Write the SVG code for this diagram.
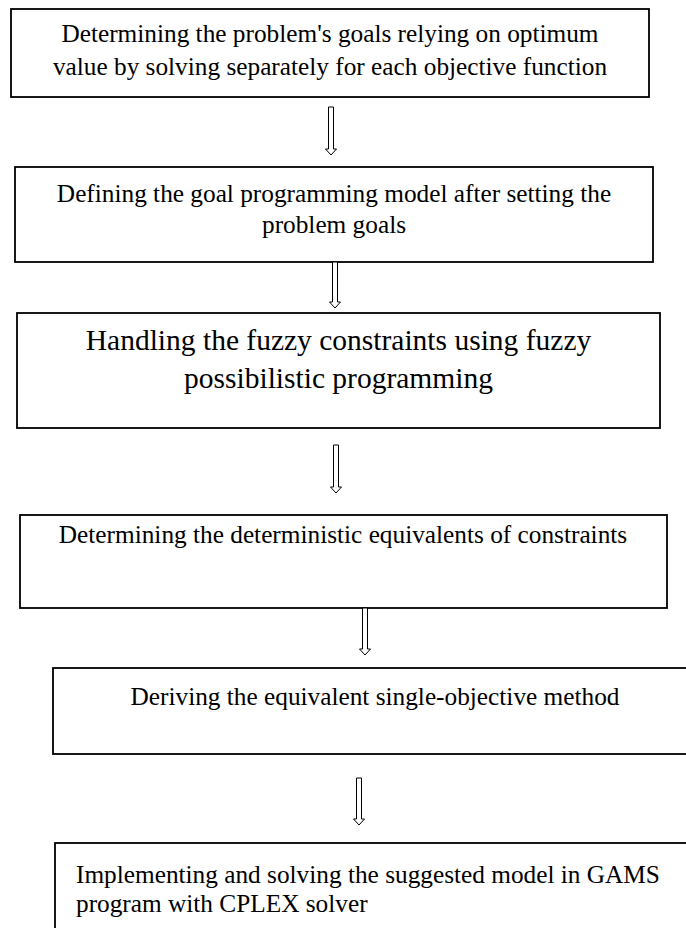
<svg xmlns="http://www.w3.org/2000/svg" width="686" height="928" viewBox="0 0 686 928">
<style>
.box{fill:#fff;stroke:#000;stroke-width:1.8}
.t{font-family:"Liberation Serif","Times New Roman",serif;font-size:25.3px;fill:#000}
.tl{font-family:"Liberation Serif","Times New Roman",serif;font-size:29.5px;fill:#000}
.c{text-anchor:middle}
.arr{fill:#fff;stroke:#000;stroke-width:1}
</style>
<rect width="686" height="928" fill="#fff"/>
<g id="node1">
<rect class="box" x="11" y="9" width="638" height="88"/>
<text class="t c" x="330" y="42">Determining the problem's goals relying on optimum</text>
<text class="t c" x="330" y="75">value by solving separately for each objective function</text>
</g>
<g id="node2">
<rect class="box" x="15" y="167" width="638" height="95"/>
<text class="t c" x="334" y="202">Defining the goal programming model after setting the</text>
<text class="t c" x="334" y="233">problem goals</text>
</g>
<g id="node3">
<rect class="box" x="17" y="313" width="643" height="115"/>
<text class="tl c" x="338.5" y="350">Handling the fuzzy constraints using fuzzy</text>
<text class="tl c" x="338.5" y="388">possibilistic programming</text>
</g>
<g id="node4">
<rect class="box" x="20" y="515" width="647" height="93"/>
<text class="t c" x="343" y="543">Determining the deterministic equivalents of constraints</text>
</g>
<g id="node5">
<rect class="box" x="53" y="668" width="644" height="86"/>
<text class="t c" x="375" y="705">Deriving the equivalent single-objective method</text>
</g>
<g id="node6">
<rect class="box" x="55" y="843" width="644" height="100"/>
<text class="t" x="76" y="883">Implementing and solving the suggested model in GAMS</text>
<text class="t" x="76" y="912">program with CPLEX solver</text>
</g>
<g id="connectors">
<polygon class="arr" points="328.5,107 333.5,107 333.5,149 336.5,149 331,155 325.5,149 328.5,149"/>
<polygon class="arr" points="332.5,262 337.5,262 337.5,302 340.5,302 335,308 329.5,302 332.5,302"/>
<polygon class="arr" points="333.5,445 338.5,445 338.5,487 341.5,487 336,493 330.5,487 333.5,487"/>
<polygon class="arr" points="362.5,608 367.5,608 367.5,649 370.5,649 365,655 359.5,649 362.5,649"/>
<polygon class="arr" points="356.5,778 361.5,778 361.5,819 364.5,819 359,825 353.5,819 356.5,819"/>
</g>
</svg>
